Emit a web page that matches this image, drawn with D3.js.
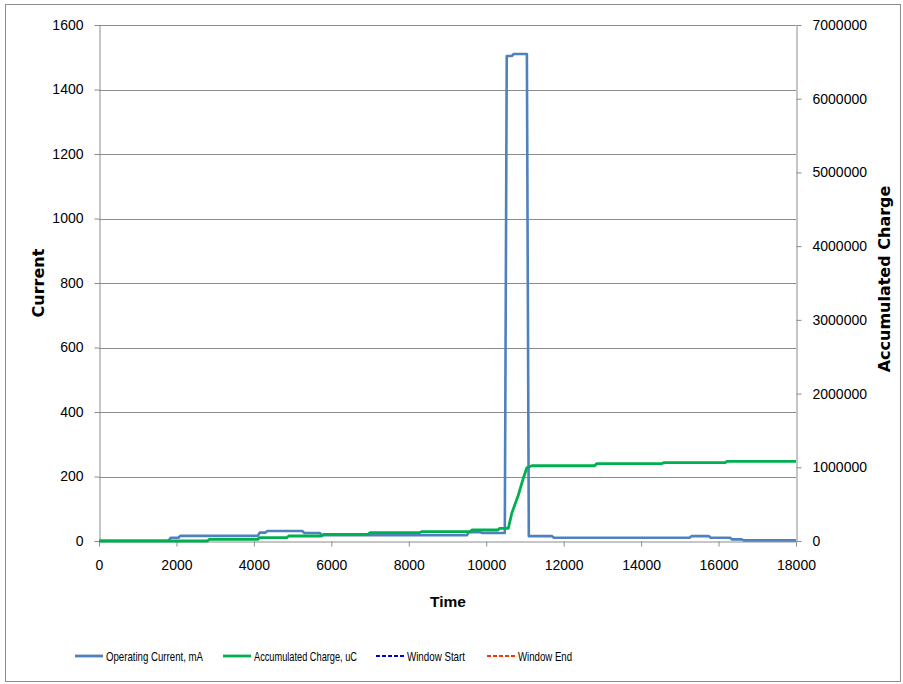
<!DOCTYPE html>
<html><head><meta charset="utf-8">
<script src="https://cdn.jsdelivr.net/npm/d3@7"></script>
<style>
html,body{margin:0;padding:0;background:#fff;}
svg{display:block;}
</style>
</head><body>
<svg id="chart" width="903" height="684"></svg>
<script>
// ---- data ----
const currentTime = [0, 1800, 1850, 2050, 2100, 4100, 4150, 4300, 4350, 5250, 5300, 5700, 5750, 9500, 9550, 9850, 9900, 10480, 10530, 10660, 10710, 11050, 11100, 11700, 11750, 15250, 15300, 15750, 15800, 16300, 16350, 16600, 16650, 18000];
const currentValues = [1, 1, 10, 10, 16, 16, 26, 26, 31, 31, 25, 25, 18, 18, 27, 27, 25, 25, 1504, 1504, 1510, 1510, 15, 15, 10, 10, 15, 15, 10, 10, 5, 5, 2, 2];
const chargeTime = [0, 2800, 2850, 4100, 4150, 4850, 4900, 5750, 5800, 6950, 7000, 8280, 8330, 9580, 9630, 10300, 10350, 10570, 10660, 10830, 10960, 11050, 11180, 12800, 12850, 14530, 14580, 16170, 16220, 18000];
const chargeValues = [0, 0, 23000, 23000, 45000, 45000, 68000, 68000, 90000, 90000, 113000, 113000, 127000, 127000, 149000, 149000, 172000, 172000, 376000, 624000, 855000, 994000, 1021000, 1021000, 1049000, 1049000, 1062000, 1062000, 1081000, 1081000];
const xTicks = [0, 2000, 4000, 6000, 8000, 10000, 12000, 14000, 16000, 18000];
const yLeftTicks = [0, 200, 400, 600, 800, 1000, 1200, 1400, 1600];
const yRightTicks = [0, 1000000, 2000000, 3000000, 4000000, 5000000, 6000000, 7000000];
const legendLabels = ["Operating Current, mA", "Accumulated Charge, uC", "Window Start", "Window End"];

// ---- layout / style ----
const legendColors = ["#4F81BD", "#00B050", "#0000CC", "#FF3300"];
const legendDash = [null, null, "4,2", "4,2"];
const legX = [75, 223, 376, 487];
const legTextW = [97, 103, 58, 54];

const svg = d3.select("#chart");
const L = 99, R = 796, T = 25, B = 541;
const tickFont = "'Liberation Sans', Arial, sans-serif";

const x = d3.scaleLinear().domain([0, 18000]).range([L, R]);
const yL = d3.scaleLinear().domain([0, 1600]).range([B, T]);
const yR = d3.scaleLinear().domain([0, 7000000]).range([B, T]);

// outer border
svg.append("rect").attr("x", 5.5).attr("y", 4.5).attr("width", 895).attr("height", 677)
  .attr("fill", "none").attr("stroke", "#8c8c8c").attr("stroke-width", 1);

// gridlines
svg.append("g").selectAll("line").data(yLeftTicks.filter(d => d > 0)).join("line")
  .attr("x1", L).attr("x2", R)
  .attr("y1", d => Math.round(yL(d)) + 0.5).attr("y2", d => Math.round(yL(d)) + 0.5)
  .attr("stroke", "#8c8c8c").attr("stroke-width", 1);

// axes
const axisStyle = g => {
  g.selectAll("path").attr("stroke", "#8c8c8c");
  g.selectAll("line").attr("stroke", "#8c8c8c");
  g.selectAll("text").attr("fill", "#000").style("font-family", tickFont).style("font-size", "14px");
};
svg.append("g").attr("transform", `translate(${L + 0.5},0)`)
  .call(d3.axisLeft(yL).tickValues(yLeftTicks).tickSize(5).tickSizeOuter(0).tickPadding(11).tickFormat(d3.format("d")))
  .call(axisStyle);
svg.append("g").attr("transform", `translate(${R + 0.5},0)`)
  .call(d3.axisRight(yR).tickValues(yRightTicks).tickSize(5).tickSizeOuter(0).tickPadding(11).tickFormat(d3.format("d")))
  .call(axisStyle);
svg.append("g").attr("transform", `translate(0,${B + 0.5})`)
  .call(d3.axisBottom(x).tickValues(xTicks).tickSize(5).tickSizeOuter(0).tickPadding(14).tickFormat(d3.format("d")))
  .call(axisStyle);

// lines
const lineCur = d3.line().x(d => x(d[0])).y(d => yL(d[1]));
const lineChg = d3.line().x(d => x(d[0])).y(d => yR(d[1]));
svg.append("path").datum(currentTime.map((t, i) => [t, currentValues[i]]))
  .attr("d", lineCur).attr("fill", "none").attr("stroke", legendColors[0]).attr("stroke-width", 2.6)
  .attr("stroke-linejoin", "round");
svg.append("path").datum(chargeTime.map((t, i) => [t, chargeValues[i]]))
  .attr("d", lineChg).attr("fill", "none").attr("stroke", legendColors[1]).attr("stroke-width", 2.8)
  .attr("stroke-linejoin", "round");

// axis titles
svg.append("text").attr("x", 448).attr("y", 607).attr("text-anchor", "middle")
  .style("font-family", "'Liberation Sans', Arial, sans-serif").style("font-weight", "bold").style("font-size", "15.5px")
  .text("Time");
svg.append("text").attr("transform", "translate(44,283) rotate(-90)").attr("text-anchor", "middle")
  .style("font-family", "'DejaVu Sans', sans-serif").style("font-weight", "bold").style("font-size", "16px")
  .text("Current");
svg.append("text").attr("transform", "translate(890,279) rotate(-90)").attr("text-anchor", "middle")
  .style("font-family", "'DejaVu Sans', sans-serif").style("font-weight", "bold").style("font-size", "16px")
  .text("Accumulated Charge");

// legend
const lg = svg.append("g");
legendLabels.forEach((lab, i) => {
  lg.append("line").attr("x1", legX[i]).attr("x2", legX[i] + 28).attr("y1", 656).attr("y2", 656)
    .attr("stroke", legendColors[i]).attr("stroke-width", legendDash[i] ? 2.2 : 2.8)
    .attr("stroke-dasharray", legendDash[i]);
  lg.append("text").attr("x", legX[i] + 31).attr("y", 660.5)
    .attr("textLength", legTextW[i]).attr("lengthAdjust", "spacingAndGlyphs")
    .style("font-family", tickFont).style("font-size", "13px").text(lab);
});
</script>
</body></html>
